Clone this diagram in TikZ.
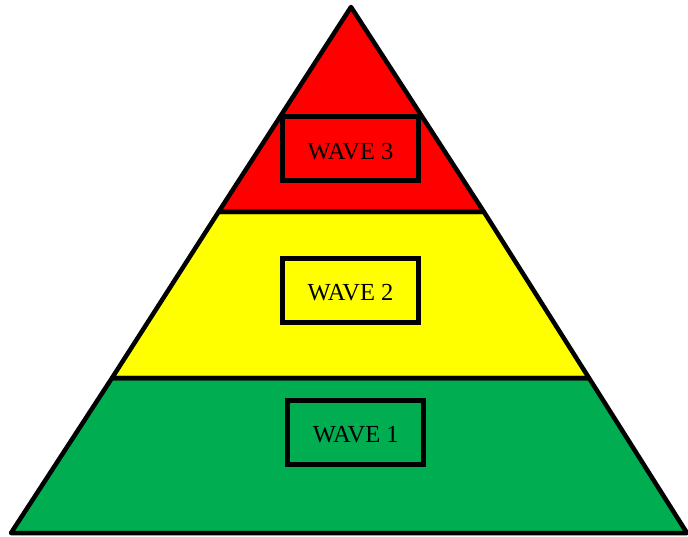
\documentclass[tikz,border=0pt]{standalone}
\usepackage{fontspec}
\setmainfont{Liberation Serif}
\definecolor{wgreen}{HTML}{00AD50}
\definecolor{wred}{HTML}{FF0000}
\definecolor{wyellow}{HTML}{FFFF00}
\newcommand{\wavetxt}[1]{\raisebox{-2.5pt}[\height][\depth]{#1}}
\begin{document}
\begin{tikzpicture}[x=1pt,y=-1pt,
  layer/.style={draw=black,line width=4.5pt,line join=round},
  wavebox/.style={draw=black,line width=5pt,rectangle,minimum width=136pt,minimum height=64pt,inner sep=0pt,font=\fontsize{24.5}{27}\selectfont}]
\useasboundingbox (0,0) rectangle (688,537);
% layers
\coordinate (apex) at (351,7);
\coordinate (l1) at (218.5,212);
\coordinate (r1) at (484,212);
\coordinate (l2) at (112,378);
\coordinate (r2) at (589,378);
\coordinate (l3) at (11,533);
\coordinate (r3) at (687,533);
\fill[wgreen] (l2) -- (r2) -- (r3) -- (l3) -- cycle;
\fill[wyellow] (l1) -- (r1) -- (r2) -- (l2) -- cycle;
\fill[wred] (apex) -- (r1) -- (l1) -- cycle;
\draw[layer] (l2) -- (r2) -- (r3) -- (l3) -- cycle;
\draw[layer] (l1) -- (r1) -- (r2) -- (l2) -- cycle;
\draw[layer] (apex) -- (r1) -- (l1) -- cycle;
% boxes
\node[wavebox] (w3) at (350.5,149) {\wavetxt{WAVE 3}};
\node[wavebox] (w2) at (350.5,290.5) {\wavetxt{WAVE 2}};
\node[wavebox] (w1) at (355.75,432.5) {\wavetxt{WAVE 1}};
\end{tikzpicture}
\end{document}
